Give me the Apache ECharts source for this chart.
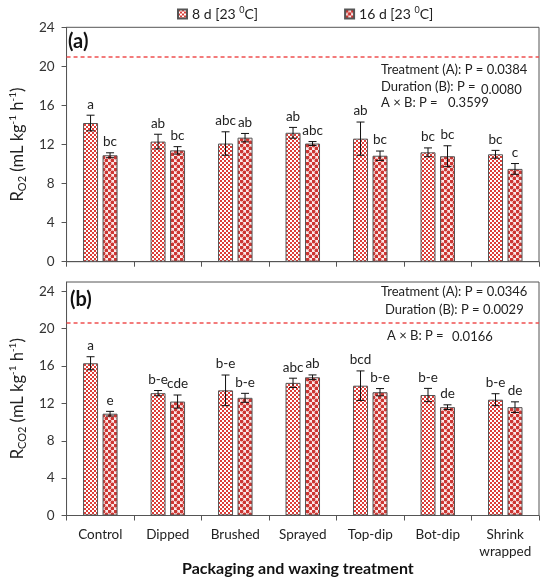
<!DOCTYPE html>
<html><head><meta charset="utf-8">
<script src="https://cdn.jsdelivr.net/npm/echarts@6/dist/echarts.min.js"></script>
<style>html,body{margin:0;padding:0;background:#fff}#c{width:543px;height:581px}</style>
</head><body><div id="c"></div>
<script>
// ---------- data ----------
const categories = ['Control','Dipped','Brushed','Sprayed','Top-dip','Bot-dip','Shrink\nwrapped'];
const seriesNames = ['8 d', '16 d'];
const yTicks = [0, 4, 8, 12, 16, 20, 24];

const o2_8d       = [14.2, 12.3, 12.1, 13.2, 12.6, 11.2, 11.0];
const o2_8d_err   = [0.8, 0.75, 1.2, 0.55, 1.7, 0.45, 0.4];
const o2_8d_let   = ['a','ab','abc','ab','ab','bc','bc'];
const o2_16d      = [10.9, 11.4, 12.7, 12.1, 10.85, 10.8, 9.5];
const o2_16d_err  = [0.25, 0.38, 0.43, 0.2, 0.48, 1.07, 0.55];
const o2_16d_let  = ['bc','bc','ab','abc','bc','bc','c'];

const co2_8d      = [16.3, 13.1, 13.4, 14.2, 13.9, 12.9, 12.4];
const co2_8d_err  = [0.7, 0.28, 1.64, 0.5, 1.58, 0.71, 0.64];
const co2_8d_let  = ['a','b-e','b-e','abc','bcd','b-e','b-e'];
const co2_16d     = [10.9, 12.2, 12.6, 14.8, 13.2, 11.6, 11.6];
const co2_16d_err = [0.25, 0.7, 0.48, 0.25, 0.39, 0.25, 0.57];
const co2_16d_let = ['e','cde','b-e','ab','b-e','de','de'];

const o2Ref = 21;
const co2Ref = 20.6;

const pA = ['Treatment (A): P = 0.0384', 'Duration (B): P =', '0.0080', 'A × B: P =', '0.3599'];
const pB = ['Treatment (A): P = 0.0346', 'Duration (B): P = 0.0029', 'A × B: P =', '0.0166'];

// ---------- styles ----------
const FONT = 'Lato';
const BAR_W = 15, BAR_GAP = 4.5;
const OFF = (BAR_W + BAR_GAP) / 2;

function checker() {
  const c = document.createElement('canvas'); c.width = 4; c.height = 4;
  const g = c.getContext('2d');
  g.fillStyle = '#fff'; g.fillRect(0, 0, 4, 4);
  g.fillStyle = '#dc3d38'; g.fillRect(0, 0, 2, 2); g.fillRect(2, 2, 2, 2);
  return c;
}
function dots() {
  const c = document.createElement('canvas'); c.width = 6; c.height = 6;
  const g = c.getContext('2d');
  g.fillStyle = '#fbeaea'; g.fillRect(0, 0, 6, 6);
  g.fillStyle = '#cc3632';
  [[1.5,1.5],[4.5,4.5]].forEach(p => { g.beginPath(); g.arc(p[0], p[1], 1.9, 0, Math.PI*2); g.fill(); });
  return c;
}
const pat8 = { image: checker(), repeat: 'repeat' };
const pat16 = { image: dots(), repeat: 'repeat' };

function barSeries(name, data, axisIdx, color, ref) {
  const s = {
    name, type: 'bar', xAxisIndex: axisIdx, yAxisIndex: axisIdx, data,
    barWidth: BAR_W, barGap: (BAR_GAP / BAR_W * 100) + '%',
    itemStyle: { color, borderColor: '#555', borderWidth: 1 },
    emphasis: { disabled: true }, animation: false
  };
  if (ref !== undefined) {
    s.markLine = {
      silent: true, symbol: 'none', label: { show: false }, animation: false,
      lineStyle: { color: '#f05050', type: [4, 3], width: 1.5 },
      data: [{ yAxis: ref }]
    };
  }
  return s;
}

function errSeries(values, errs, letters, axisIdx, side) {
  return {
    type: 'custom', xAxisIndex: axisIdx, yAxisIndex: axisIdx, animation: false, z: 5,
    data: values.map((v, i) => [i, v, errs[i]]),
    renderItem: function (params, api) {
      const i = api.value(0), v = api.value(1), e = api.value(2);
      const hi = api.coord([i, v + e]);
      const lo = api.coord([i, v - e]);
      const x = hi[0] + side * OFF;
      const st = { stroke: '#111', lineWidth: 1 };
      return {
        type: 'group', children: [
          { type: 'line', shape: { x1: x, y1: hi[1], x2: x, y2: lo[1] }, style: st },
          { type: 'line', shape: { x1: x - 4, y1: hi[1], x2: x + 4, y2: hi[1] }, style: st },
          { type: 'line', shape: { x1: x - 4, y1: lo[1], x2: x + 4, y2: lo[1] }, style: st },
          { type: 'text', x: x, y: hi[1] - 4, style: {
              text: letters[params.dataIndex], fontFamily: FONT, fontSize: 13.5, fill: '#222',
              align: 'center', verticalAlign: 'bottom' } }
        ]
      };
    }
  };
}

const nameRich = {
  sub: { fontFamily: FONT, fontSize: 11, lineHeight: 11, verticalAlign: 'bottom', color: '#222' },
  sup: { fontFamily: FONT, fontSize: 10, lineHeight: 10, verticalAlign: 'top', color: '#222' }
};

function yAxis(gridIdx, max, name) {
  return {
    gridIndex: gridIdx, type: 'value', min: 0, max, interval: 4,
    name, nameLocation: 'middle', nameRotate: 90, nameGap: 36,
    nameTextStyle: { fontFamily: FONT, fontSize: 16.5, lineHeight: 20, color: '#222', rich: nameRich },
    axisLine: { show: true, lineStyle: { color: '#555', width: 1 } },
    axisTick: { show: true, length: 5, lineStyle: { color: '#555' }, customValues: yTicks },
    axisLabel: { fontFamily: FONT, fontSize: 13.5, color: '#333', margin: 12, showMaxLabel: true, customValues: yTicks },
    splitLine: { show: false }
  };
}
function xAxis(gridIdx, showLabels) {
  return {
    gridIndex: gridIdx, type: 'category', data: categories,
    axisLine: { show: true, lineStyle: { color: '#555', width: 1 } },
    axisTick: { show: true, length: 5, lineStyle: { color: '#555' } },
    axisLabel: { show: showLabels, fontFamily: FONT, fontSize: 13.5, color: '#222', margin: 11, lineHeight: 17, interval: 0 }
  };
}

function txt(text, left, y, opts) {
  return Object.assign({ type: 'text', left: left, top: y - 8, silent: true,
    style: { text, fontFamily: FONT, fontSize: 13, fill: '#222' } }, opts || {});
}

const option = {
  backgroundColor: '#fff',
  animation: false,
  legend: {
    top: 1, left: 172, itemWidth: 9, itemHeight: 9, itemGap: 86,
    data: seriesNames,
    icon: 'rect',
    formatter: n => n + ' [23 {sup|0}C]',
    textStyle: { fontFamily: FONT, fontSize: 14, color: '#222', lineHeight: 16,
      rich: { sup: { fontFamily: FONT, fontSize: 9, lineHeight: 9, verticalAlign: 'top', color: '#222' } } }
  },
  grid: [
    { left: 63, right: 4, top: 27.3, bottom: 319.3, show: true, borderColor: '#555', borderWidth: 1 },
    { left: 63, right: 4, top: 282, bottom: 65.5, show: true, borderColor: '#555', borderWidth: 1 }
  ],
  xAxis: [xAxis(0, false), xAxis(1, true)],
  yAxis: [
    yAxis(0, 24, 'R{sub|O2} (mL kg{sup|-1} h{sup|-1})'),
    yAxis(1, 25, 'R{sub|CO2} (mL kg{sup|-1} h{sup|-1})')
  ],
  series: [
    barSeries(seriesNames[0], o2_8d, 0, pat8, o2Ref),
    barSeries(seriesNames[1], o2_16d, 0, pat16),
    barSeries(seriesNames[0], co2_8d, 1, pat8, co2Ref),
    barSeries(seriesNames[1], co2_16d, 1, pat16),
    errSeries(o2_8d, o2_8d_err, o2_8d_let, 0, -1),
    errSeries(o2_16d, o2_16d_err, o2_16d_let, 0, 1),
    errSeries(co2_8d, co2_8d_err, co2_8d_let, 1, -1),
    errSeries(co2_16d, co2_16d_err, co2_16d_let, 1, 1)
  ],
  graphic: [
    { type: 'text', left: 68, top: 32, silent: true, style: { text: '(a)', fontFamily: FONT, fontSize: 20, fontWeight: 'bold', fill: '#111' } },
    { type: 'text', left: 70, top: 290, silent: true, style: { text: '(b)', fontFamily: FONT, fontSize: 20, fontWeight: 'bold', fill: '#111' } },
    txt(pA[0], 381, 71), txt(pA[1], 381, 88), txt(pA[2], 481, 91), txt(pA[3], 381, 104), txt(pA[4], 448, 104),
    txt(pB[0], 381, 293), txt(pB[1], 385, 311), txt(pB[2], 387, 337), txt(pB[3], 452, 338),
    { type: 'text', left: 182, top: 561, silent: true,
      style: { text: 'Packaging and waxing treatment', fontFamily: FONT, fontSize: 16, fontWeight: 'bold', fill: '#111' } }
  ]
};

const chart = echarts.init(document.getElementById('c'), null, { renderer: 'canvas' });
chart.setOption(option);
</script>
</body></html>
